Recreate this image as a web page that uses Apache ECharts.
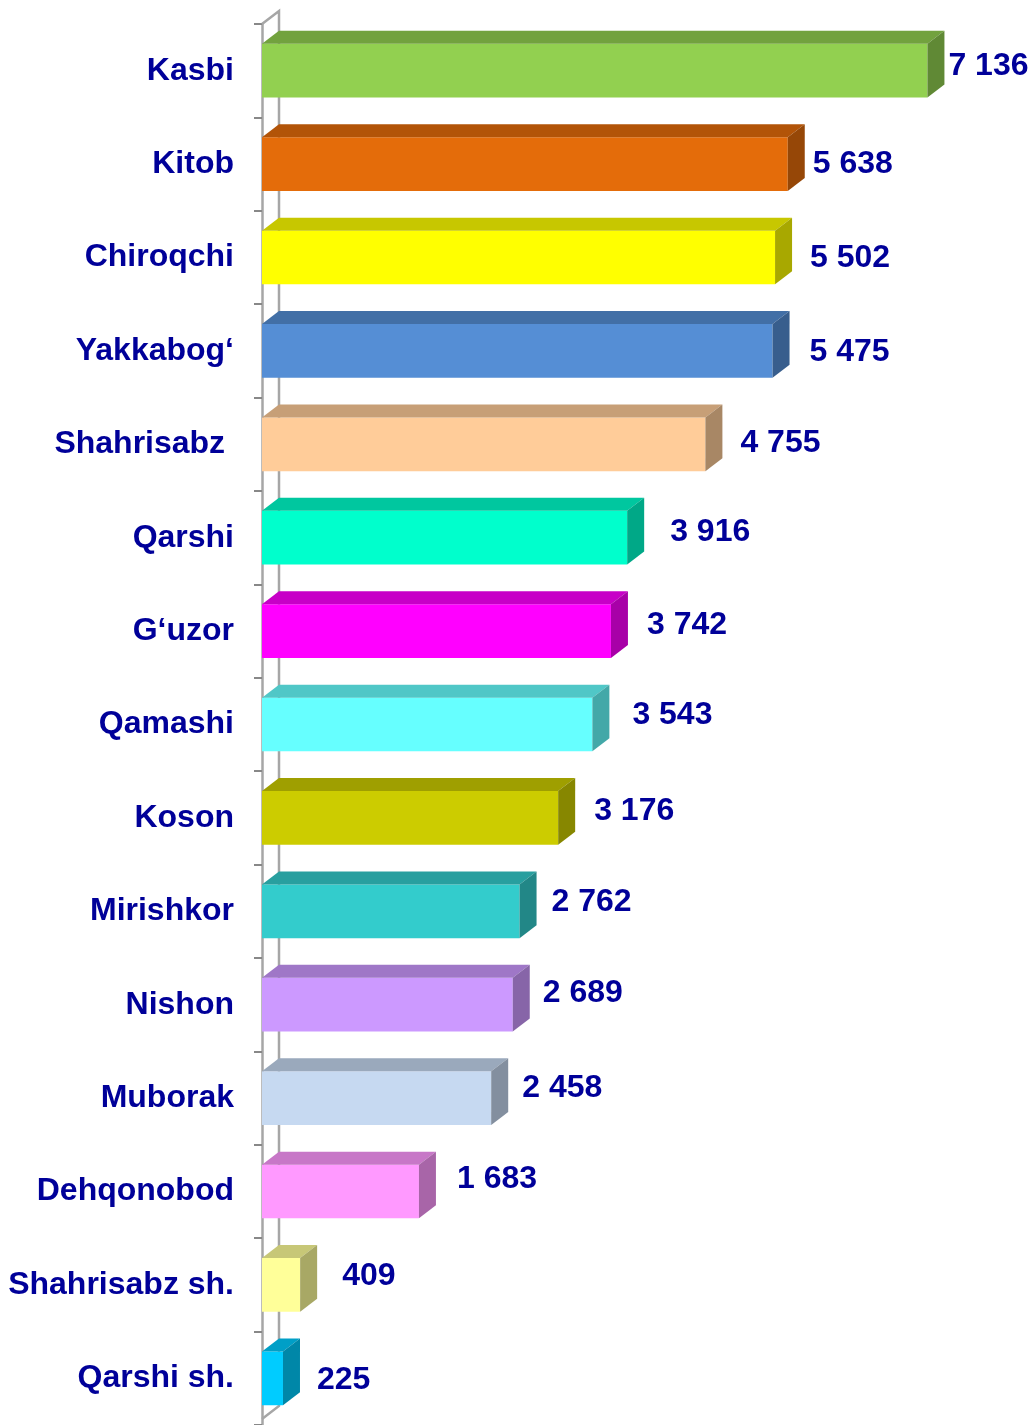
<!DOCTYPE html>
<html>
<head>
<meta charset="utf-8">
<script src="https://cdn.jsdelivr.net/npm/echarts@6/dist/echarts.min.js"></script>
<style>
html, body { margin: 0; padding: 0; background: #fff; }
#chart { width: 1031px; height: 1425px; }
</style>
</head>
<body>
<div id="chart"></div>
<script>
var categories = ['Kasbi', 'Kitob', 'Chiroqchi', 'Yakkabog‘', 'Shahrisabz ', 'Qarshi', 'G‘uzor', 'Qamashi',
    'Koson', 'Mirishkor', 'Nishon', 'Muborak', 'Dehqonobod', 'Shahrisabz sh.', 'Qarshi sh.'];
var values = [7136, 5638, 5502, 5475, 4755, 3916, 3742, 3543, 3176, 2762, 2689, 2458, 1683, 409, 225];
var barColors = ['#92D050', '#E46C0A', '#FFFF00', '#558ED5', '#FFCC99', '#00FFCC', '#FF00FF', '#66FFFF',
    '#CCCC00', '#33CCCC', '#CC99FF', '#C6D9F1', '#FF99FF', '#FFFF99', '#00CCFF'];
// where each value label sits: [gap after the bar front, vertical shift]
var labelNudge = [[21, -5], [25, 0], [35, 1], [37, 1], [35, -1], [43, -6], [36, -6], [40, -9],
    [36, -7], [32, -9], [30, -12], [31, -10], [38, -12], [42, -9], [34, 2]];

var DX = 17, DY = 13;           // depth of the fake 3d
var WALL = '#A6A6A6';
var TEXT = '#000099';
var FONT = 'bold 32px "Liberation Sans", Arial, sans-serif';

function shade(hex, k) {
    var n = parseInt(hex.slice(1), 16);
    var r = Math.round(((n >> 16) & 255) * k);
    var g = Math.round(((n >> 8) & 255) * k);
    var b = Math.round((n & 255) * k);
    return 'rgb(' + r + ',' + g + ',' + b + ')';
}

function fmt(v) {
    return String(v).replace(/\B(?=(\d{3})+(?!\d))/g, ' ');
}

var barData = values.map(function (v, i) { return [v, i]; });

function renderWall(params, api) {
    var cs = params.coordSys;
    var x = cs.x, y = cs.y, h = cs.height - 6;
    return {
        type: 'polyline',
        shape: { points: [[x, y], [x + DX, y - DY], [x + DX, y + h - DY], [x, y + h]] },
        style: { stroke: WALL, lineWidth: 2.5, fill: null }
    };
}

function renderBar(params, api) {
    var i = params.dataIndex;
    var v = api.value(0);
    var start = api.coord([0, i]);
    var end = api.coord([v, i]);
    var band = api.size([0, 1])[1];
    var h = band * 0.575;
    var x0 = start[0], x1 = end[0];
    var y = start[1] - h / 2;
    var c = barColors[i];
    var nudge = labelNudge[i];
    return {
        type: 'group',
        children: [
            {
                type: 'rect',
                shape: { x: x0, y: y, width: x1 - x0, height: h },
                style: { fill: c }
            },
            {
                type: 'polygon',
                shape: { points: [[x0, y], [x0 + DX, y - DY], [x1 + DX, y - DY], [x1, y]] },
                style: { fill: shade(c, 0.78) }
            },
            {
                type: 'polygon',
                shape: { points: [[x1, y], [x1 + DX, y - DY], [x1 + DX, y + h - DY], [x1, y + h]] },
                style: { fill: shade(c, 0.66) }
            },
            {
                type: 'text',
                style: {
                    text: fmt(v),
                    x: x1 + nudge[0],
                    y: start[1] + nudge[1],
                    font: FONT,
                    fill: TEXT,
                    align: 'left',
                    verticalAlign: 'middle'
                }
            }
        ]
    };
}

var option = {
    backgroundColor: '#fff',
    animation: false,
    grid: { left: 262, top: 24, width: 746, height: 1407 },
    xAxis: {
        type: 'value',
        min: 0,
        max: 8000,
        show: false
    },
    yAxis: {
        type: 'category',
        data: categories,
        inverse: true,
        axisLine: { show: true, lineStyle: { color: WALL, width: 2.5 } },
        axisTick: { show: true, length: 8, lineStyle: { color: '#888', width: 2 } },
        axisLabel: {
            margin: 28,
            color: TEXT,
            fontSize: 32,
            fontWeight: 'bold',
            fontFamily: '"Liberation Sans", Arial, sans-serif'
        },
        splitLine: { show: false }
    },
    series: [
        {
            type: 'custom',
            renderItem: renderWall,
            data: [[0, 0]],
            silent: true,
            z: 1
        },
        {
            type: 'custom',
            renderItem: renderBar,
            encode: { x: 0, y: 1 },
            data: barData,
            z: 2
        }
    ]
};

var myChart = echarts.init(document.getElementById('chart'));
myChart.setOption(option);
</script>
</body>
</html>
